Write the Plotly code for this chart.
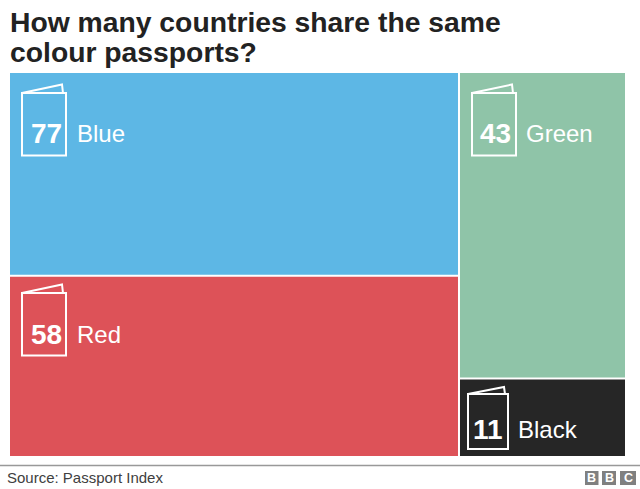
import plotly.graph_objects as go

WIDTH = 640
HEIGHT = 489
FONT = "Liberation Sans"

colours = ["Blue", "Red", "Green", "Black"]
counts = [77, 58, 43, 11]
# tile areas as measured on the picture: the red tile is drawn bigger than its count
tile_sizes = [77, 68.5, 43, 11]
columns = ["left", "left", "right", "right"]
tile_colours = ["#5DB7E5", "#DD5258", "#8FC4A8", "#262626"]


def px(x):
    return x / WIDTH


def py(y):
    return 1 - y / HEIGHT


def text(x, y, s, size, anchor="left", bold=False, color="white"):
    return dict(
        x=px(x), y=py(y), xref="paper", yref="paper", text=f"<b>{s}</b>" if bold else s,
        showarrow=False, xanchor=anchor, yanchor="middle", align="left",
        font=dict(family=FONT, size=size, color=color),
    )


def passport(x0, x1, y0, y1, top):
    # little open booklet drawn on each tile
    path = (
        f"M{px(x0)},{py(y0)} L{px(x1 - 4)},{py(top)} L{px(x1 - 3)},{py(y0)} "
        f"M{px(x0)},{py(y0)} L{px(x1)},{py(y0)} L{px(x1)},{py(y1)} L{px(x0)},{py(y1)} Z"
    )
    return dict(type="path", path=path, xref="paper", yref="paper",
                line=dict(color="white", width=2))


left_total = sum(s for s, c in zip(tile_sizes, columns) if c == "left")
right_total = sum(s for s, c in zip(tile_sizes, columns) if c == "right")

fig = go.Figure(
    go.Treemap(
        ids=["left", "right"] + colours,
        labels=["", ""] + colours,
        parents=["", ""] + columns,
        values=[left_total, right_total] + tile_sizes,
        customdata=["", ""] + counts,
        branchvalues="total",
        sort=False,
        textinfo="none",
        hovertemplate="%{label}: %{customdata}<extra></extra>",
        marker=dict(
            colors=["white", "white"] + tile_colours,
            line=dict(width=0),
            pad=dict(t=0, l=0, r=0, b=0),
        ),
        tiling=dict(packing="slice-dice", pad=2),
        pathbar=dict(visible=False),
        domain=dict(x=[px(10), px(625)], y=[py(456), py(73)]),
    )
)

icon_boxes = [
    (22, 66, 93, 155.5, 84.5),
    (22, 66, 293, 355.5, 284.5),
    (472, 516, 93, 155.5, 84.5),
    (468, 508, 394, 449, 387),
]
label_places = [(46, 75, 133), (46, 75, 334), (495, 524, 133), (488, 516, 429)]

shapes = [passport(*box) for box in icon_boxes]
annotations = []
for name, count, (num_x, label_x, y) in zip(colours, counts, label_places):
    annotations.append(text(num_x, y, count, 28, anchor="center", bold=True))
    annotations.append(text(label_x, y, name, 24))

annotations.append(text(8, 22, "How many countries share the same", 28.3, bold=True, color="#222222"))
annotations.append(text(8, 52, "colour passports?", 28.3, bold=True, color="#222222"))
annotations.append(text(5, 477, "Source: Passport Index", 15, color="#404040"))

shapes.append(dict(type="line", xref="paper", yref="paper", x0=0, x1=1, y0=py(465.5), y1=py(465.5),
                   line=dict(color="#999999", width=1.5)))
for x0, x1, letter in [(585, 598.5, "B"), (602, 616, "B"), (620, 636, "C")]:
    shapes.append(dict(type="rect", xref="paper", yref="paper", x0=px(x0), x1=px(x1),
                       y0=py(485), y1=py(471), fillcolor="#808080", line=dict(width=0)))
    annotations.append(text((x0 + x1) / 2, 478, letter, 12.5, anchor="center", bold=True))

fig.update_layout(
    width=WIDTH,
    height=HEIGHT,
    margin=dict(l=0, r=0, t=0, b=0),
    paper_bgcolor="white",
    showlegend=False,
    shapes=shapes,
    annotations=annotations,
)

# the page's default body margin would push the fixed-size figure out of the window
fig.write_html("out.html", config=dict(displayModeBar=False),
               post_script="document.body.style.margin = '0';")
